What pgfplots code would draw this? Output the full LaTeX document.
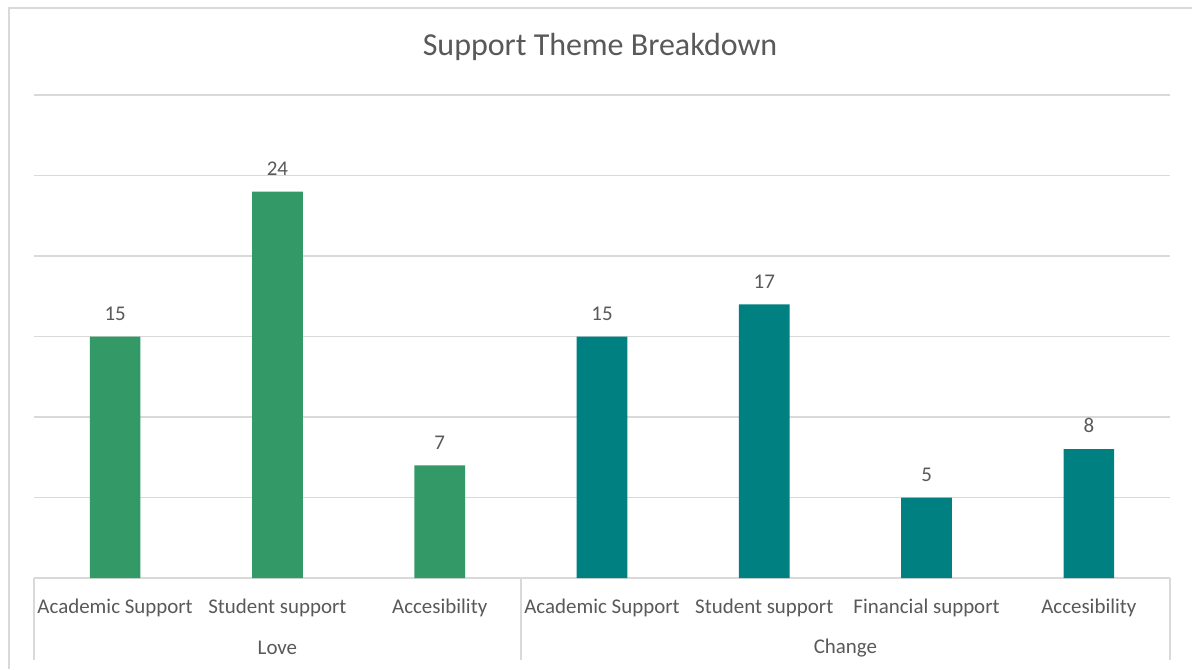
\documentclass[border=0pt]{standalone}
\usepackage{pgfplots}
\pgfplotsset{compat=1.18}
\usepackage{fontspec}
\setmainfont{Carlito}
\definecolor{txt}{HTML}{595959}
\definecolor{grd}{HTML}{D9D9D9}
\definecolor{lovec}{HTML}{339966}
\definecolor{chgc}{HTML}{008080}
\begin{document}
\begin{tikzpicture}
\path[use as bounding box] (0,0) rectangle (894pt,501.75pt);
\fill[white] (0,0) rectangle (894pt,501.75pt);
\draw[grd,line width=1.5pt] (6.5pt,0) -- (6.5pt,495.75pt) -- (894pt,495.75pt);
\node[font=\fontsize{24}{28}\selectfont,text=txt] at (450pt,466.5pt) {Support Theme Breakdown};
\begin{axis}[
  at={(25.5pt,68.25pt)}, anchor=south west,
  scale only axis, width=852pt, height=362.25pt,
  xmin=-0.5, xmax=6.5, ymin=0, ymax=30,
  axis x line*=bottom, axis y line*=left,
  x axis line style={grd,line width=1pt,-},
  y axis line style={draw=none},
  ytick={5,10,15,20,25,30}, yticklabels={},
  ymajorgrids, grid style={grd,line width=1pt},
  major tick length=0pt,
  xtick={0,1,2,3,4,5,6},
  xticklabels={Academic Support,Student support,Accesibility,Academic Support,Student support,Financial support,Accesibility},
  xticklabel style={font=\fontsize{15.7}{18}\selectfont,text=txt,yshift=-12pt},
  ybar, bar width=38pt, bar shift=0pt,
  nodes near coords,
  /pgf/number format/assume math mode=true,
  every node near coord/.append style={font=\fontsize{15.7}{18}\selectfont,text=txt,anchor=south,inner sep=0pt,yshift=12pt},
  clip=false,
]
\addplot[fill=lovec,draw=none] coordinates {(0,15) (1,24) (2,7)};
\addplot[fill=chgc,draw=none] coordinates {(3,15) (4,17) (5,5) (6,8)};
\draw[grd,line width=1pt] (axis cs:-0.5,0) -- ([yshift=-61.5pt]axis cs:-0.5,0);
\draw[grd,line width=1pt] (axis cs:2.5,0) -- ([yshift=-61.5pt]axis cs:2.5,0);
\draw[grd,line width=1pt] (axis cs:6.5,0) -- ([yshift=-61.5pt]axis cs:6.5,0);
\node[font=\fontsize{15.7}{18}\selectfont,text=txt] at ([yshift=-52.5pt]axis cs:1,0) {Love};
\node[font=\fontsize{15.7}{18}\selectfont,text=txt] at ([yshift=-52.5pt]axis cs:4.5,0) {Change};
\end{axis}
\end{tikzpicture}
\end{document}
